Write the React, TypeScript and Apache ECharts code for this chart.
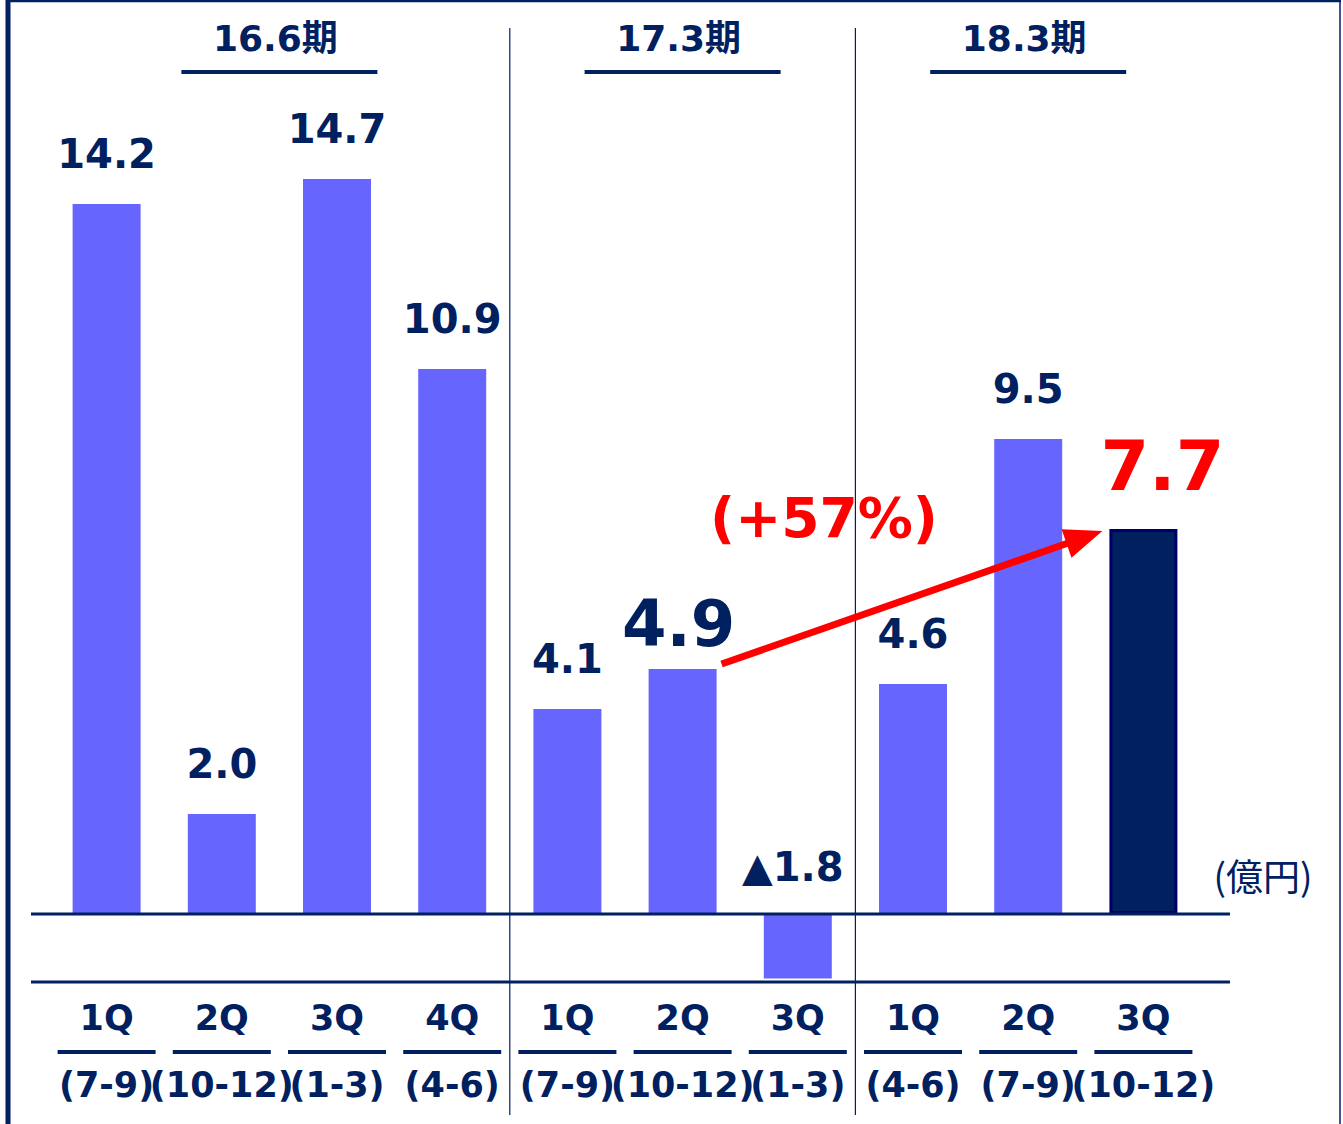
import React, { useEffect, useRef } from 'react';
import * as echarts from 'echarts';

// ---- data ----
const quarters = ['1Q', '2Q', '3Q', '4Q', '1Q', '2Q', '3Q', '1Q', '2Q', '3Q'];
const months = ['(7-9)', '(10-12)', '(1-3)', '(4-6)', '(7-9)', '(10-12)', '(1-3)', '(4-6)', '(7-9)', '(10-12)'];
const values = [14.2, 2.0, 14.7, 10.9, 4.1, 4.9, -1.8, 4.6, 9.5, 7.7];
const periodLabels = ['16.6期', '17.3期', '18.3期'];
const periodSizes = [4, 3, 3];
const unitLabel = '(億円)';
const arrowFrom = 5;
const arrowTo = 9;

// ---- styles ----
const NAVY = '#002060';
const BAR = '#6666FF';
const RED = '#FF0000';
const FONT = '"DejaVu Sans", "Noto Sans CJK JP", sans-serif';
const CJK = '"Noto Sans CJK JP", sans-serif';

export default function App() {
  const ref = useRef<HTMLDivElement>(null);

  useEffect(() => {
    const chart = echarts.init(ref.current!, null, { renderer: 'svg' });
    const H = 1124;
    const barWidth = 68;
    const categories = quarters.map((q, i) => q + months[i]);

    const labelStyle = (i: number, v: number): any => {
      const base: any = {
        show: true,
        position: 'top',
        fontFamily: FONT,
        fontWeight: 'bold',
        color: NAVY,
        fontSize: 40,
        lineHeight: 40,
        distance: 30,
        formatter: () => (v < 0 ? '▲' + Math.abs(v).toFixed(1) : v.toFixed(1)),
      };
      if (i === arrowFrom) {
        Object.assign(base, { fontSize: 64, lineHeight: 64, distance: 13, offset: [-4, 0] });
      }
      if (i === arrowTo) {
        Object.assign(base, { fontSize: 70, lineHeight: 70, distance: 28, color: RED, offset: [19, 0] });
      }
      if (v < 0) {
        Object.assign(base, { distance: 27, offset: [-5, 0], rich: {} });
      }
      return base;
    };

    const itemStyleFor = (i: number): any =>
      i === arrowTo
        ? { color: NAVY, borderColor: '#000066', borderWidth: 3 }
        : { color: BAR };

    const posData = values.map((v, i) =>
      v >= 0 ? { value: v, itemStyle: itemStyleFor(i), label: labelStyle(i, v) } : '-'
    );
    const negData = values.map((v, i) =>
      v < 0 ? { value: v, itemStyle: itemStyleFor(i), label: labelStyle(i, v) } : '-'
    );

    const option: any = {
      animation: false,
      backgroundColor: '#ffffff',
      grid: [
        { left: 49, right: 142, top: 14, height: 900, containLabel: false, outerBoundsMode: 'none' },
        { left: 49, right: 142, top: 914, height: 68, containLabel: false, outerBoundsMode: 'none' },
      ],
      xAxis: [
        { type: 'category', gridIndex: 0, data: categories, show: false },
        {
          type: 'category',
          gridIndex: 1,
          data: categories,
          axisLine: { show: false, onZero: false },
          axisTick: { show: false },
          splitLine: { show: false },
          axisLabel: {
            interval: 0,
            margin: 14,
            formatter: (_v: string, i: number) => `{q|${quarters[i]}}\n{u| }\n{m|${months[i]}}`,
            rich: {
              q: { fontSize: 35, fontWeight: 'bold', color: NAVY, fontFamily: FONT, lineHeight: 44 },
              u: { width: 98, height: 4, lineHeight: 24, backgroundColor: NAVY, fontSize: 4 },
              m: { fontSize: 35, fontWeight: 'bold', color: NAVY, fontFamily: FONT, lineHeight: 42 },
            },
          },
        },
      ],
      yAxis: [
        { type: 'value', gridIndex: 0, min: 0, max: 18, show: false },
        { type: 'value', gridIndex: 1, min: -1.9, max: 0, show: false },
      ],
      series: [
        { type: 'bar', xAxisIndex: 0, yAxisIndex: 0, barWidth, data: posData },
        { type: 'bar', xAxisIndex: 1, yAxisIndex: 1, barWidth, data: negData },
      ],
    };
    chart.setOption(option);

    const px = (i: number, v: number): number[] =>
      chart.convertToPixel({ gridIndex: v >= 0 ? 0 : 1 } as any, [i, v]) as number[];

    const zeroY = px(0, 0)[1];
    const lowerY = chart.convertToPixel({ gridIndex: 1 } as any, [0, -1.9])[1] as number;
    const lineLeft = 31;
    const lineRight = 1230;

    const g: any[] = [];
    // frame
    g.push({ type: 'line', z: 50, shape: { x1: 8, y1: 0, x2: 8, y2: H }, style: { stroke: NAVY, lineWidth: 5 } });
    g.push({ type: 'line', z: 50, shape: { x1: 6, y1: 1, x2: 1341, y2: 1 }, style: { stroke: NAVY, lineWidth: 2.5 } });
    g.push({ type: 'line', z: 50, shape: { x1: 1340, y1: 0, x2: 1340, y2: H }, style: { stroke: NAVY, lineWidth: 1.5 } });

    // base lines
    g.push({ type: 'line', z: 50, shape: { x1: lineLeft, y1: zeroY, x2: lineRight, y2: zeroY }, style: { stroke: NAVY, lineWidth: 3 } });
    g.push({ type: 'line', z: 50, shape: { x1: lineLeft, y1: lowerY, x2: lineRight, y2: lowerY }, style: { stroke: NAVY, lineWidth: 3 } });

    // period groups
    let start = 0;
    periodLabels.forEach((label, k) => {
      const end = start + periodSizes[k] - 1;
      const cx = (px(start, 0)[0] + px(end, 0)[0]) / 2;
      g.push({
        type: 'text',
        x: cx - 4,
        y: 38,
        style: {
          text: label,
          fill: NAVY,
          font: `bold 36px ${FONT}`,
          align: 'center',
          verticalAlign: 'middle',
          textAlign: 'center',
          textVerticalAlign: 'middle',
        },
      });
      g.push({ type: 'rect', shape: { x: cx - 98, y: 70, width: 196, height: 4 }, style: { fill: NAVY } });
      if (k > 0) {
        const sx = (px(start - 1, 0)[0] + px(start, 0)[0]) / 2;
        g.push({ type: 'line', z: 50, shape: { x1: sx, y1: 28, x2: sx, y2: 1115 }, style: { stroke: NAVY, lineWidth: 1.2 } });
      }
      start = end + 1;
    });

    // unit label
    g.push({
      type: 'text',
      x: 1263,
      y: 875,
      style: {
        text: unitLabel,
        fill: NAVY,
        font: `37px ${CJK}`,
        align: 'center',
        verticalAlign: 'middle',
        textAlign: 'center',
        textVerticalAlign: 'middle',
      },
    });

    // arrow
    const a = px(arrowFrom, values[arrowFrom]);
    const b = px(arrowTo, values[arrowTo]);
    const s = [a[0] + barWidth / 2 + 5, a[1] - 5];
    const t = [b[0] - barWidth / 2 - 7, b[1] + 2];
    const dx = t[0] - s[0];
    const dy = t[1] - s[1];
    const len = Math.sqrt(dx * dx + dy * dy);
    const ux = dx / len;
    const uy = dy / len;
    const nx = -uy;
    const ny = ux;
    const headLen = 38;
    const headHalf = 15;
    const bx = t[0] - ux * headLen;
    const by = t[1] - uy * headLen;
    g.push({
      type: 'line',
      z: 100,
      shape: { x1: s[0], y1: s[1], x2: bx + ux * 4, y2: by + uy * 4 },
      style: { stroke: RED, lineWidth: 7 },
    });
    g.push({
      type: 'polygon',
      z: 100,
      shape: { points: [[t[0], t[1]], [bx + nx * headHalf, by + ny * headHalf], [bx - nx * headHalf, by - ny * headHalf]] },
      style: { fill: RED },
    });
    const growth = Math.round((values[arrowTo] / values[arrowFrom] - 1) * 100);
    g.push({
      type: 'text',
      z: 100,
      x: (s[0] + t[0]) / 2 - 88,
      y: (s[1] + t[1]) / 2 - 80,
      style: {
        text: `(+${growth}%)`,
        fill: RED,
        font: `bold 55px ${FONT}`,
        align: 'center',
        verticalAlign: 'middle',
        textAlign: 'center',
        textVerticalAlign: 'middle',
      },
    });

    chart.setOption({ graphic: { elements: g } });

    return () => {
      chart.dispose();
    };
  }, []);

  return (
    <div
      ref={ref}
      style={{ position: 'absolute', left: 0, top: 0, width: 1343, height: 1124, background: '#fff' }}
    />
  );
}
